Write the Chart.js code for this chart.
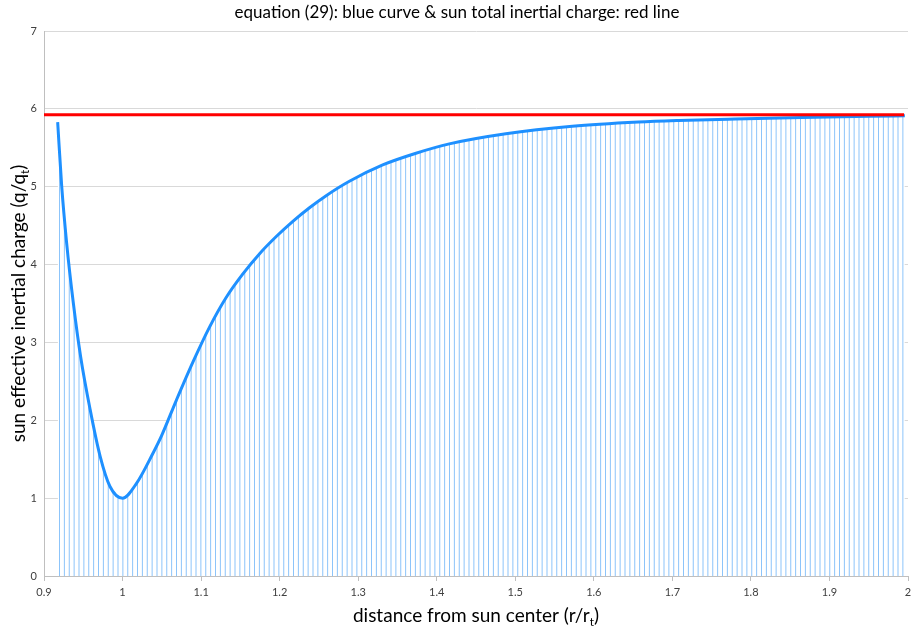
<!DOCTYPE html>
<html lang="en">

<head>
    <meta charset="UTF-8">
    <title>equation (29)</title>
    <script src="https://cdn.jsdelivr.net/npm/chart.js"></script>
    <style>
        html, body { margin: 0; padding: 0; background: #fff; }
        .grafico { position: relative; width: 911px; height: 629px; }
    </style>
</head>

<body>
    <div class="grafico">
        <canvas id="grafico_carga"></canvas>
    </div>
</body>

<script>

// distance from sun center (r/rt)
const distancia = [0.9174, 0.9225, 0.9288, 0.9373, 0.9466, 0.9587, 0.9714, 0.984, 1.0, 1.0178,
    1.0389, 1.0496, 1.0686, 1.0897, 1.1109, 1.1321, 1.1532, 1.1745, 1.1957, 1.2168,
    1.238, 1.2592, 1.2888, 1.3312, 1.3736, 1.416, 1.488, 1.5726, 1.657, 1.708,
    1.780, 1.865, 1.950, 1.996];

// sun effective inertial charge (q/qt), blue curve
const carga = [5.83, 5.01, 4.28, 3.51, 2.82, 2.14, 1.54, 1.15, 1.0, 1.19,
    1.58, 1.80, 2.26, 2.75, 3.20, 3.58, 3.88, 4.14, 4.36, 4.555,
    4.73, 4.885, 5.07, 5.28, 5.43, 5.55, 5.68, 5.776, 5.83, 5.85,
    5.87, 5.89, 5.905, 5.91];

// red line: sun total inertial charge
const linhaTotalX = [0.9, 1.995];
const linhaTotalY = [5.923, 5.923];

const ticksX = [0.9, 1, 1.1, 1.2, 1.3, 1.4, 1.5, 1.6, 1.7, 1.8, 1.9, 2];
const ticksY = [0, 1, 2, 3, 4, 5, 6, 7];

const titulo = 'equation (29): blue curve & sun total inertial charge: red line';
const tituloX = ['distance from sun center (r/r', 't', ')'];
const tituloY = ['sun effective inertial charge (q/q', 't', ')'];

const fonte = 'Lato, "Open Sans", sans-serif';

const canvas = document.getElementById('grafico_carga');

// hatch of thin vertical drop lines under the blue curve (white background hides the grid)
function criarHachura() {
    var c = document.createElement('canvas');
    c.width = 39;
    c.height = 4;
    var g = c.getContext('2d');
    g.fillStyle = '#ffffff';
    g.fillRect(0, 0, 39, 4);
    g.fillStyle = 'rgb(140, 196, 250)';
    for (var i = 0; i < 8; i++) {
        g.fillRect(i * 4.875 + 0.5, 0, 1, 4);
    }
    return canvas.getContext('2d').createPattern(c, 'repeat');
}

// axis titles with subscript t
function textoComIndice(ctx, partes, tamanho) {
    ctx.font = tamanho + 'px ' + fonte;
    var w0 = ctx.measureText(partes[0]).width;
    var w2 = ctx.measureText(partes[2]).width;
    ctx.font = (tamanho * 0.62) + 'px ' + fonte;
    var w1 = ctx.measureText(partes[1]).width;
    var total = w0 + w1 + w2;
    var x = -total / 2;
    ctx.textBaseline = 'alphabetic';
    ctx.textAlign = 'left';
    ctx.font = tamanho + 'px ' + fonte;
    ctx.fillText(partes[0], x, 0);
    ctx.font = (tamanho * 0.62) + 'px ' + fonte;
    ctx.fillText(partes[1], x + w0, tamanho * 0.2);
    ctx.font = tamanho + 'px ' + fonte;
    ctx.fillText(partes[2], x + w0 + w1, 0);
}

const pluginTitulos = {
    id: 'titulos',
    afterDraw(chart) {
        const ctx = chart.ctx;
        const area = chart.chartArea;
        ctx.save();
        ctx.fillStyle = '#000000';
        ctx.font = '17px ' + fonte;
        ctx.textAlign = 'center';
        ctx.textBaseline = 'middle';
        ctx.fillText(titulo, 457, 13);

        ctx.save();
        ctx.translate((area.left + area.right) / 2, 622);
        textoComIndice(ctx, tituloX, 19);
        ctx.restore();

        ctx.save();
        ctx.translate(25, (area.top + area.bottom) / 2);
        ctx.rotate(-Math.PI / 2);
        textoComIndice(ctx, tituloY, 19);
        ctx.restore();
        ctx.restore();
    }
};

const pontosCurva = distancia.map((x, i) => ({ x: x, y: carga[i] }));
const pontosTotal = linhaTotalX.map((x, i) => ({ x: x, y: linhaTotalY[i] }));

const config_grafico = {
    type: 'line',
    data: {
        datasets: [
            {
                label: 'sun total inertial charge',
                data: pontosTotal,
                borderColor: '#ff0000',
                borderWidth: 3,
                pointRadius: 0,
                fill: false,
                order: 0
            },
            {
                label: 'equation (29)',
                data: pontosCurva,
                borderColor: '#1e90ff',
                borderWidth: 3,
                pointRadius: 0,
                cubicInterpolationMode: 'monotone',
                fill: 'origin',
                backgroundColor: criarHachura(),
                order: 1
            }
        ]
    },
    options: {
        responsive: true,
        maintainAspectRatio: false,
        animation: false,
        layout: { padding: { top: 31, right: 0, left: 0, bottom: 0 } },
        plugins: {
            legend: { display: false },
            tooltip: { enabled: false }
        },
        scales: {
            x: {
                type: 'linear',
                min: 0.9,
                max: 2,
                afterBuildTicks: s => { s.ticks = ticksX.map(v => ({ value: v })); },
                ticks: {
                    callback: v => String(+v.toFixed(1)),
                    color: '#404040',
                    font: { family: fonte, size: 11 },
                    padding: 5,
                    maxRotation: 0,
                    autoSkip: false
                },
                grid: { drawOnChartArea: false, tickLength: 5, color: '#bfbfbf' },
                border: { color: '#bfbfbf' },
                afterFit: s => { s.height = 53; s.paddingRight = 3; }
            },
            y: {
                min: 0,
                max: 7,
                afterBuildTicks: s => { s.ticks = ticksY.map(v => ({ value: v })); },
                ticks: {
                    color: '#404040',
                    font: { family: fonte, size: 11 },
                    padding: 7
                },
                grid: { color: '#d9d9d9', drawTicks: false },
                border: { color: '#bfbfbf' },
                afterFit: s => { s.width = 44; s.paddingTop = 0; }
            }
        }
    },
    plugins: [pluginTitulos]
};

const GraficoCarga = new Chart(canvas, config_grafico);

</script>

</html>
